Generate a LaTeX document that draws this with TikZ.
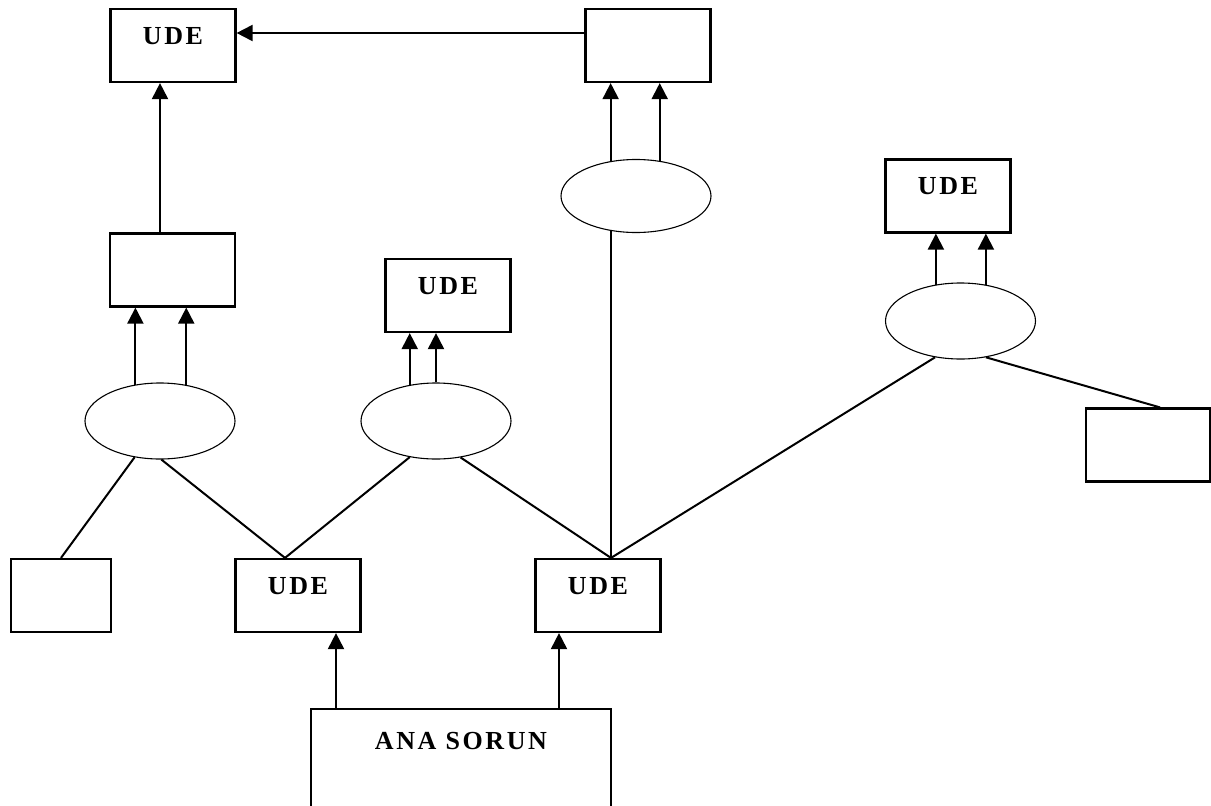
\documentclass[tikz,border=0pt]{standalone}
\usepackage{fontspec}
\setmainfont{Liberation Serif}
\newfontfamily\udefont[LetterSpace=10]{Liberation Serif}
\usetikzlibrary{arrows.meta,shapes.geometric}
\tikzset{
  box/.style={draw, line width=2.2pt, rectangle, inner sep=0pt, minimum width=125pt,
    text height=35pt, text depth=38pt, font=\udefont\bfseries\fontsize{26}{30}\selectfont},
  oval/.style={draw, line width=1.1pt, ellipse, inner sep=0pt, minimum width=150pt, minimum height=76pt},
  conn/.style={line width=2pt},
  arr/.style={line width=2pt, -{Triangle[length=16pt,width=16pt]}},
}
\begin{document}
\begin{tikzpicture}[x=1pt,y=-1pt]
\useasboundingbox (0,0) rectangle (1211,806);
\clip (0,0) rectangle (1211,806);
\fill[white] (0,0) rectangle (1211,806);
% boxes
\node[box] (A) at (173,45.5) {UDE};
\node[box] (B) at (648,45.5) {};
\node[box] (C) at (172.5,270) {};
\node[box] (D) at (448,295.5) {UDE};
\node[box] (G) at (948,196) {UDE};
\node[box, minimum width=124pt] (H) at (1148,445) {};
\node[box, minimum width=100pt] (I) at (61,595.5) {};
\node[box] (F1) at (298,595.5) {UDE};
\node[box] (F2) at (598,595.5) {UDE};
\node[box, minimum width=300pt, text height=40pt, text depth=69pt] (R) at (461,763.5) {ANA SORUN};
% ellipses
\node[oval] (E1) at (160,421) {};
\node[oval] (E2) at (436,421) {};
\node[oval, minimum height=73pt] (E3) at (636,196) {};
\node[oval] (E4) at (960.5,321) {};
% arrows
\draw[arr] ([yshift=12.5pt]B.west) -- ([yshift=12.5pt]B.west -| A.east);
\draw[arr] ([xshift=-12.5pt]C.north) -- ([xshift=-12.5pt]C.north |- A.south);
\draw[arr] (E1.124) -- (E1.124 |- C.south);
\draw[arr] (E1.54) -- (E1.54 |- C.south);
\draw[arr] (E2.126) -- (E2.126 |- D.south);
\draw[arr] (E2.north) -- (E2.north |- D.south);
\draw[arr] (E3.126) -- (E3.126 |- B.south);
\draw[arr] (E3.56) -- (E3.56 |- B.south);
\draw[arr] (E4.124) -- (E4.124 |- G.south);
\draw[arr] (E4.55) -- (E4.55 |- G.south);
\draw[arr] ([xshift=38pt]F1.south |- R.north) -- ([xshift=38pt]F1.south);
\draw[arr] ([xshift=-39pt]F2.south |- R.north) -- ([xshift=-39pt]F2.south);
% plain connectors
\draw[conn] (E1.235) -- (I.north);
\draw[conn] (E1.272) -- ([xshift=-13pt]F1.north);
\draw[conn] (E2.234) -- ([xshift=-13pt]F1.north);
\draw[conn] (E2.304) -- ([xshift=13pt]F2.north);
\draw[conn] ([xshift=13pt]F2.north) -- ([xshift=13pt]F2.north |- E3.235);
\draw[conn] (E4.235) -- ([xshift=13pt]F2.north);
\draw[conn] (E4.305) -- ([xshift=12pt]H.north);
\end{tikzpicture}
\end{document}
